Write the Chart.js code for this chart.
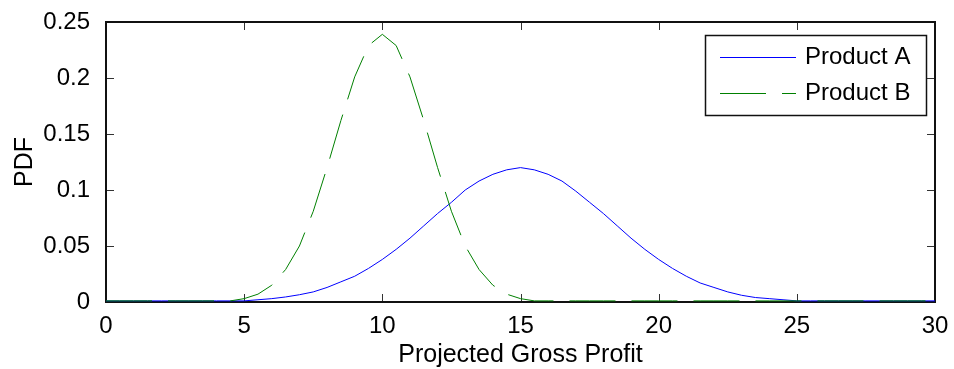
<!DOCTYPE html>
<html>
<head>
<meta charset="utf-8">
<script src="https://cdn.jsdelivr.net/npm/chart.js@4.4.1/dist/chart.umd.min.js"></script>
<style>
  html, body { margin: 0; padding: 0; background: #fff; }
</style>
</head>
<body>
<canvas id="pdf_chart" width="954" height="369"></canvas>
<script>
// projected gross profit grid (x values)
const profit = [
  0, 0.5, 1, 1.5, 2, 2.5, 3, 3.5, 4, 4.5,
  5, 5.5, 6, 6.5, 7, 7.5, 8, 8.5, 9, 9.5,
  10, 10.5, 11, 11.5, 12, 12.5, 13, 13.5, 14, 14.5,
  15, 15.5, 16, 16.5, 17, 17.5, 18, 18.5, 19, 19.5,
  20, 20.5, 21, 21.5, 22, 22.5, 23, 23.5, 24, 24.5,
  25, 25.5, 26, 26.5, 27, 27.5, 28, 28.5, 29, 29.5, 30
];

const productA = [
  0.001, 0.001, 0.001, 0.001, 0.001, 0.001, 0.001, 0.001, 0.001, 0.001,
  0.001, 0.002, 0.003, 0.0045, 0.0065, 0.009, 0.013, 0.018, 0.023, 0.030,
  0.038, 0.047, 0.057, 0.068, 0.079, 0.089, 0.100, 0.108, 0.114, 0.118,
  0.120, 0.118, 0.114, 0.108, 0.099, 0.089, 0.079, 0.068, 0.057, 0.047,
  0.038, 0.030, 0.023, 0.017, 0.013, 0.009, 0.006, 0.004, 0.003, 0.002,
  0.001, 0.001, 0.001, 0.001, 0.001, 0.001, 0.001, 0.001, 0.001, 0.001, 0.001
];

const productB = [
  0.001, 0.001, 0.001, 0.001, 0.001, 0.001, 0.001, 0.001, 0.001, 0.001,
  0.003, 0.007, 0.015, 0.029, 0.050, 0.081, 0.120, 0.162, 0.201, 0.229,
  0.239, 0.229, 0.201, 0.162, 0.120, 0.081, 0.050, 0.029, 0.015, 0.007,
  0.003, 0.001, 0.001, 0.001, 0.001, 0.001, 0.001, 0.001, 0.001, 0.001,
  0.001, 0.001, 0.001, 0.001, 0.001, 0.001, 0.001, 0.001, 0.001, 0.001,
  0.001, 0.001, 0.001, 0.001, 0.001, 0.001, 0.001, 0.001, 0.001, 0.001, 0.001
];

const seriesNames = ["Product A", "Product B"];
const seriesColors = ["#0000ff", "#008000"];
const seriesDash = [[], [46, 16]];

const FONT = "'Liberation Sans', Arial, Helvetica, sans-serif";
const TICK_LEN = 8;

function toPoints(values) {
  return values.map((v, i) => ({ x: profit[i], y: v }));
}

// MATLAB-style box with inward ticks on all four sides
const boxAxes = {
  id: "boxAxes",
  beforeDatasetsDraw(chart) {
    const { ctx, chartArea: a, scales: { x, y } } = chart;
    ctx.save();
    ctx.strokeStyle = "#333";
    ctx.lineWidth = 1;
    ctx.beginPath();
    x.ticks.forEach((t) => {
      const px = Math.round(x.getPixelForValue(t.value)) + 0.5;
      ctx.moveTo(px, a.bottom);
      ctx.lineTo(px, a.bottom - TICK_LEN);
      ctx.moveTo(px, a.top);
      ctx.lineTo(px, a.top + TICK_LEN);
    });
    y.ticks.forEach((t) => {
      const py = Math.round(y.getPixelForValue(t.value)) + 0.5;
      ctx.moveTo(a.left, py);
      ctx.lineTo(a.left + TICK_LEN, py);
      ctx.moveTo(a.right, py);
      ctx.lineTo(a.right - TICK_LEN, py);
    });
    ctx.stroke();
    ctx.strokeStyle = "#111";
    ctx.lineWidth = 2;
    ctx.strokeRect(a.left, a.top, a.right - a.left, a.bottom - a.top);
    ctx.restore();
  },
  afterDraw(chart) {
    // legend box in the upper right, like the MATLAB one
    const { ctx } = chart;
    const box = { left: 705, top: 35, width: 221, height: 80 };
    ctx.save();
    ctx.fillStyle = "#fff";
    ctx.fillRect(box.left, box.top, box.width, box.height);
    ctx.strokeStyle = "#111";
    ctx.lineWidth = 1.5;
    ctx.strokeRect(box.left + 0.5, box.top + 0.5, box.width, box.height);
    chart.data.datasets.forEach((ds, i) => {
      const rowY = 57.5 + i * 36;
      ctx.strokeStyle = ds.borderColor;
      ctx.lineWidth = 1;
      ctx.setLineDash(ds.borderDash || []);
      ctx.beginPath();
      ctx.moveTo(720, rowY);
      ctx.lineTo(796, rowY);
      ctx.stroke();
      ctx.setLineDash([]);
      ctx.fillStyle = "#000";
      ctx.font = "24px " + FONT;
      ctx.textBaseline = "middle";
      ctx.textAlign = "left";
      ctx.fillText(ds.label, 805, rowY);
    });
    ctx.restore();
  },
};

Chart.defaults.color = "#000";
Chart.defaults.font.family = FONT;
Chart.defaults.font.size = 24;

new Chart(document.getElementById("pdf_chart"), {
  type: "line",
  data: {
    datasets: [productA, productB].map((vals, i) => ({
      label: seriesNames[i],
      data: toPoints(vals),
      borderColor: seriesColors[i],
      borderDash: seriesDash[i],
      borderWidth: 1,
      pointRadius: 0,
      tension: 0,
      fill: false,
      order: 1 - i,
    })),
  },
  options: {
    responsive: false,
    animation: false,
    events: [],
    layout: { padding: { top: 22, right: 19, left: 0, bottom: 0 } },
    plugins: {
      legend: { display: false },
      tooltip: { enabled: false },
    },
    scales: {
      x: {
        type: "linear",
        min: 0,
        max: 30,
        grid: { display: false },
        border: { display: false },
        ticks: { stepSize: 5, padding: 2, maxRotation: 0 },
        title: {
          display: true,
          text: "Projected Gross Profit",
          font: { size: 25 },
          padding: { top: 0, bottom: -1 },
        },
        afterFit(scale) {
          scale.height = 67;
          scale.paddingLeft = 0;
          scale.paddingRight = 0;
        },
      },
      y: {
        min: 0,
        max: 0.25,
        grid: { display: false },
        border: { display: false },
        ticks: {
          stepSize: 0.05,
          padding: 8,
          callback: (v) => String(+Number(v).toFixed(2)),
        },
        title: {
          display: true,
          text: "PDF",
          font: { size: 25 },
          padding: { top: 10, bottom: 0 },
        },
        afterFit(scale) {
          scale.width = 106;
          scale.paddingTop = 0;
          scale.paddingBottom = 0;
        },
      },
    },
  },
  plugins: [boxAxes],
});
</script>
</body>
</html>
